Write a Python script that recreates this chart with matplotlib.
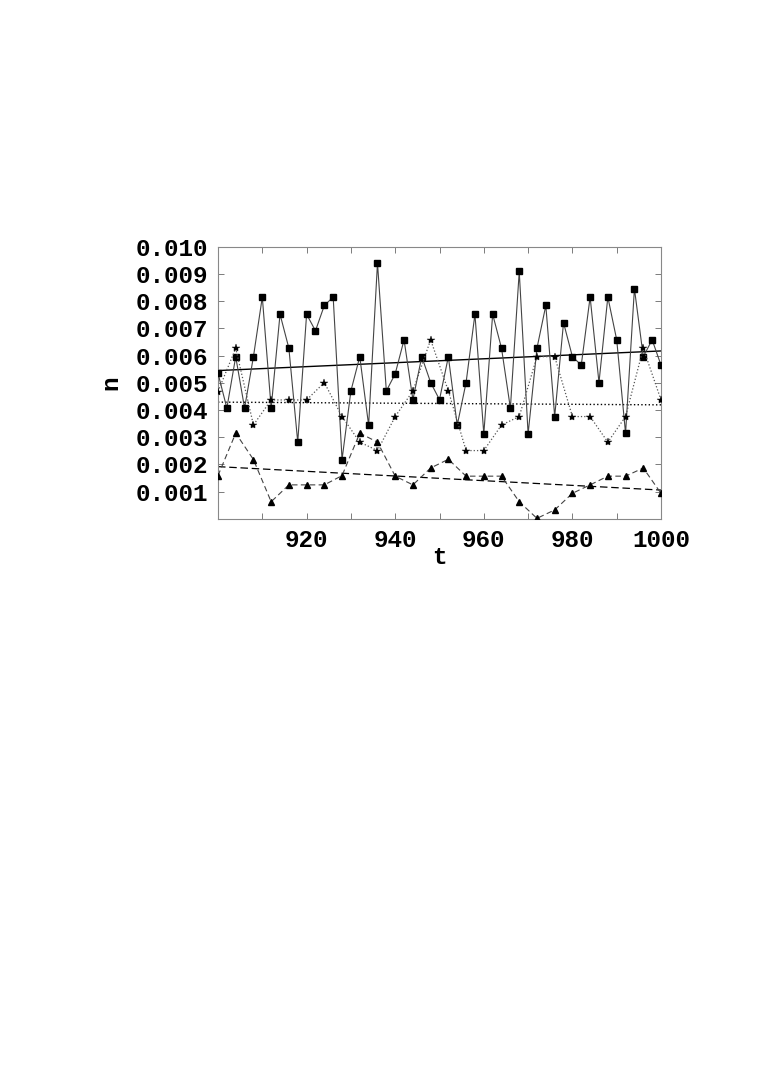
import matplotlib
matplotlib.use("Agg")
import matplotlib.pyplot as plt
import numpy as np

# data (values in units of 1e-3)
t_sq = list(range(900, 1001, 2))
n_sq = [5.35, 4.07, 5.96, 4.07, 5.96, 8.15, 4.07, 7.52, 6.27, 2.82,
        7.52, 6.91, 7.84, 8.15, 2.18, 4.70, 5.96, 3.44, 9.40, 4.70,
        5.33, 6.58, 4.38, 5.96, 5.01, 4.38, 5.96, 3.44, 5.01, 7.52,
        3.12, 7.52, 6.27, 4.07, 9.09, 3.12, 6.27, 7.84, 3.76, 7.21,
        5.96, 5.65, 8.15, 5.01, 8.15, 6.58, 3.14, 8.46, 5.96, 6.58,
        5.65]
t_st = list(range(900, 1001, 4))
n_st = [4.68, 6.27, 3.45, 4.37, 4.37, 4.37, 5.01, 3.76, 2.82, 2.51,
        3.76, 4.70, 6.58, 4.70, 2.51, 2.51, 3.45, 3.76, 5.96, 5.96,
        3.76, 3.76, 2.82, 3.76, 6.27, 4.37]
t_tr = list(range(900, 1001, 4))
n_tr = [1.59, 3.15, 2.18, 0.63, 1.25, 1.25, 1.25, 1.59, 3.15, 2.82,
        1.57, 1.25, 1.87, 2.19, 1.57, 1.57, 1.57, 0.63, 0.02, 0.33,
        0.94, 1.25, 1.57, 1.57, 1.87, 0.94]
fit_t = [900, 1000]
fit_sq = [5.45, 6.17]
fit_st = [4.29, 4.19]
fit_tr = [1.92, 1.06]

yticks = [0.001, 0.002, 0.003, 0.004, 0.005, 0.006, 0.007, 0.008, 0.009, 0.010]
ylabels = ["0.001", "0.002", "0.003", "0.004", "0.005", "0.006", "0.007", "0.008", "0.009", "0.010"]
xticks = [920, 940, 960, 980, 1000]
xminor = [910, 930, 950, 970, 990]

sc = lambda v: [x * 1e-3 for x in v]

fig = plt.figure(figsize=(7.73, 10.90), dpi=100)
ax = fig.add_axes([218/773, 1-518.9/1090, (661-218)/773, (518.9-246.7)/1090])

ax.plot(t_sq, sc(n_sq), '-', color='#444444', lw=0.8, marker='s', ms=4.0,
        mfc='black', mec='black', zorder=3)
ax.plot(t_st, sc(n_st), ':', color='#555555', lw=0.9, marker='*', ms=6,
        mfc='black', mec='black', mew=0.3, zorder=3)
ax.plot(t_tr, sc(n_tr), '--', color='#444444', lw=0.8, dashes=(5, 3), marker='^', ms=5,
        mfc='black', mec='black', zorder=3)
ax.plot(fit_t, sc(fit_sq), '-', color='black', lw=1.0, zorder=2)
ax.plot(fit_t, sc(fit_st), ':', color='black', lw=1.0, zorder=2)
ax.plot(fit_t, sc(fit_tr), '--', color='black', lw=0.9, dashes=(6, 3), zorder=2)

ax.set_xlim(900, 1000)
ax.set_ylim(0, 0.010)
ax.set_xticks(xticks)
ax.set_xticks(xminor, minor=True)
ax.set_yticks(yticks)
font = dict(family='Liberation Mono', weight='bold', size=17.5)
ax.set_xticklabels([str(x) for x in xticks], fontdict=font)
ax.set_yticklabels(ylabels, fontdict=font)
ax.tick_params(which='both', direction='in', top=True, right=True,
               length=4, width=0.6, color='#666666', pad=7)
for s in ax.spines.values():
    s.set_color('#888888')
    s.set_linewidth(0.8)
ax.set_xlabel('t', fontdict=font, labelpad=-4)
ax.set_ylabel('n', fontdict=font, labelpad=10)

fig.savefig('out.png', dpi=100)
